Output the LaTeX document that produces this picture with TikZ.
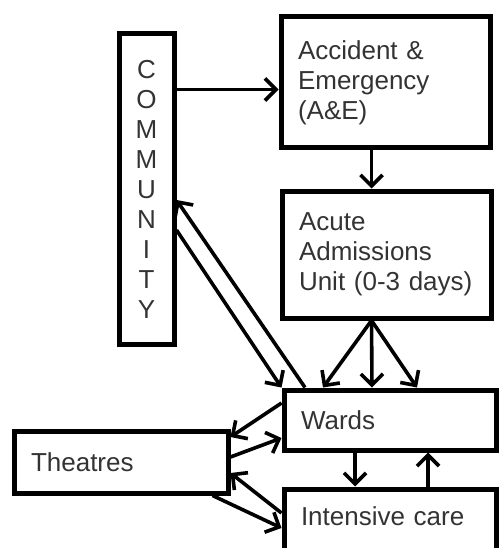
\documentclass[tikz,border=0pt]{standalone}
\usepackage{fontspec}
\setmainfont{Liberation Sans}
\usetikzlibrary{arrows.meta,positioning}
\begin{document}
\begin{tikzpicture}[x=1pt,y=-1pt,
  box/.style={draw,line width=5pt,inner xsep=17pt,inner ysep=0pt,align=left,font=\fontsize{26}{30}\selectfont,text=black!80},
  arr/.style={line width=3.6pt,-{Straight Barb[length=11pt,width=22pt]}}]
\clip (0,0) rectangle (499,548);
\node[box,minimum width=55pt,minimum height=310pt,inner xsep=0pt,align=center] (comm) at (146.5,189) {C\\O\\M\\M\\U\\N\\I\\T\\Y};
\node[box,text width=175pt,minimum height=131pt] (ae) at (385.5,82.5) {Accident \&\\Emergency\\(A\&E)};
\node[box,text width=175pt,minimum height=127pt] (aau) at (386.5,254.5) {Acute\\Admissions\\Unit (0-3 days)};
\node[box,text width=178pt,minimum height=60pt] (wards) at (390,420) {Wards};
\node[box,text width=178pt,minimum height=80pt,text depth=26pt] (icu) at (390,529) {Intensive care};
\node[box,text width=180pt,minimum height=62pt] (theatres) at (121,462) {Theatres};
\coordinate (in) at ([yshift=-7pt]ae.west); \coordinate (down) at ([xshift=-14pt]ae.south);
\coordinate (fan) at ([xshift=-15pt]aau.south);
\draw[arr] (comm.east |- in) -- (in);
\draw[arr] (down) -- (down |- aau.north);
\foreach \dx in {-67,-18,27} \draw[arr] (fan) -- ([xshift=\dx pt]wards.north);
\draw[arr] ([xshift=-85pt]wards.north) -- ([yshift=-11pt]comm.east);
\draw[arr] ([yshift=-41pt]comm.east) -- (wards.north west);
\draw[arr] ([yshift=17pt]wards.west) -- ([yshift=25pt]theatres.east);
\draw[arr] ([yshift=5pt]theatres.east) -- ([yshift=-18pt]wards.west);
\draw[arr] ([yshift=16pt]icu.west) -- ([yshift=-11pt]theatres.east);
\draw[arr] ([xshift=-18pt]theatres.south east) -- ([yshift=1pt]icu.west);
\draw[arr] ([xshift=-35pt]wards.south) -- ([xshift=-35pt]icu.north);
\draw[arr] ([xshift=38pt]icu.north) -- ([xshift=38pt]wards.south);
\end{tikzpicture}
\end{document}
